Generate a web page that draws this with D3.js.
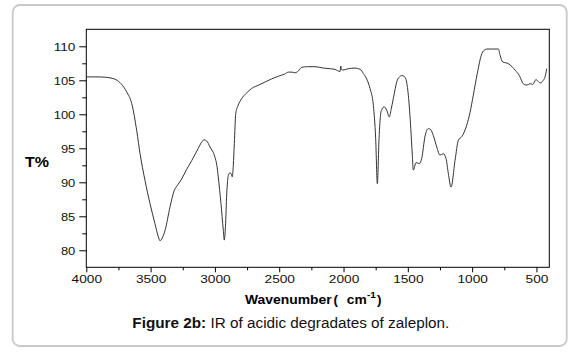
<!DOCTYPE html>
<html><head><meta charset="utf-8">
<script src="https://cdn.jsdelivr.net/npm/d3@7/dist/d3.min.js"></script>
<style>
html,body{margin:0;padding:0;background:#fff;}
svg{display:block;font-family:"Liberation Sans",Arial,sans-serif;}
</style></head>
<body>
<svg id="c" width="576" height="359"></svg>
<script>
// Wavenumber (cm-1) and transmittance (T%)
const wavenumbers = [4000,3900,3850,3800,3770,3730,3686,3647,3608,3582,3544,3505,3466,3440,3427,3410,3388,3349,3316,3290,3258,3220,3180,3140,3103,3085,3065,3038,3000,2985,2974,2953,2935,2927,2918,2908,2896,2883,2872,2865,2857,2849,2838,2820,2792,2750,2714,2660,2610,2560,2507,2460,2429,2400,2377,2350,2325,2280,2222,2157,2100,2066,2027,2021,2016,2009,1963,1911,1870,1846,1820,1794,1768,1750,1737,1724,1711,1700,1685,1664,1644,1630,1613,1582,1565,1547,1530,1514,1496,1477,1465,1457,1436,1410,1392,1366,1340,1320,1302,1275,1250,1224,1203,1185,1164,1133,1107,1081,1042,1016,991,960,925,900,887,850,796,783,762,719,690,666,633,602,581,560,550,529,504,485,472,447,435,420];
const transmittance = [105.5,105.5,105.45,105.3,105.1,104.5,103.3,101.6,97.6,94.2,90.3,86.9,83.9,82.0,81.4,81.8,82.9,86.4,88.8,89.6,90.5,91.9,93.2,94.6,95.9,96.25,96.1,95.2,93.7,92.5,90.8,86.9,83.0,81.5,83.5,88.3,91.0,91.4,91.2,90.8,92.5,95.7,100.1,101.3,102.3,103.2,103.8,104.3,104.75,105.2,105.6,105.9,106.2,106.2,106.1,106.4,106.9,107.0,107.0,106.8,106.7,106.6,106.3,107.1,106.6,106.5,106.7,106.8,106.6,106.0,105.2,103.8,101.3,96.4,89.8,96.4,100.1,100.8,101.1,100.6,99.6,100.7,102.3,105.0,105.5,105.7,105.6,105.1,102.8,97.9,94.0,91.8,92.9,92.75,93.5,96.8,97.9,97.7,96.9,95.2,94.0,94.2,93.5,91.3,89.3,93.2,96.2,96.7,98.4,100.3,102.8,106.0,108.9,109.5,109.6,109.6,109.6,108.7,107.7,107.45,107.0,106.5,105.7,104.5,104.3,104.4,104.5,104.4,105.1,104.8,104.6,105.0,105.4,106.7];
const xTickValues = [4000,3500,3000,2500,2000,1500,1000,500];
const xMinorTicks = [3750,3250,2750,2250,1750,1250,750];
const yTickValues = [80,85,90,95,100,105,110];
const yMinorTicks = [82.5,87.5,92.5,97.5,102.5,107.5];
const yLabel = "T%";
const xLabelParts = ["Wavenumber", "(", "cm", "-1", ")"];
const caption = ["Figure 2b:", " IR of acidic degradates of zaleplon."];

const svg = d3.select("#c");
const L = 86.3, R = 549.3, T = 29.3, B = 267.3;
const x = d3.scaleLinear().domain([4000,400]).range([L,R]);
const y = d3.scaleLinear().domain([77.5,112.5]).range([B,T]);

// outer rounded frame
svg.append("rect").attr("x",12.7).attr("y",5).attr("width",554).attr("height",341)
  .attr("rx",7).attr("fill","none").attr("stroke","#c9c9c9").attr("stroke-width",1.8);

// plot frame
svg.append("rect").attr("x",L).attr("y",T).attr("width",R-L).attr("height",B-T)
  .attr("fill","none").attr("stroke","#000").attr("stroke-width",1);

// x axis
const gx = svg.append("g").attr("transform",`translate(0,${B})`);
gx.call(d3.axisBottom(x).tickValues(xTickValues).tickSize(5).tickPadding(3).tickFormat(d3.format("d")));
gx.select(".domain").remove();
gx.selectAll(".tick line").attr("stroke","#000");
gx.selectAll(".tick text").attr("font-size",10).attr("fill","#111").attr("dy",null).attr("y",15.4)
  .attr("font-family","Liberation Sans, Arial, sans-serif")
  .each(function(){const t=d3.select(this).text(); d3.select(this).attr("textLength",t.length*7.6).attr("lengthAdjust","spacingAndGlyphs");});
const gxm = svg.append("g").attr("transform",`translate(0,${B})`);
gxm.call(d3.axisBottom(x).tickValues(xMinorTicks).tickSize(3).tickFormat(""));
gxm.select(".domain").remove();
gxm.selectAll(".tick line").attr("stroke","#000");

// y axis
const gy = svg.append("g").attr("transform",`translate(${L},0)`);
gy.call(d3.axisLeft(y).tickValues(yTickValues).tickSize(7).tickPadding(4).tickFormat(d3.format("d")));
gy.select(".domain").remove();
gy.selectAll(".tick line").attr("stroke","#000");
gy.selectAll(".tick text").attr("font-size",10).attr("fill","#111").attr("dy","0.37em")
  .attr("font-family","Liberation Sans, Arial, sans-serif")
  .each(function(){const t=d3.select(this).text(); d3.select(this).attr("textLength",t.length*7.2).attr("lengthAdjust","spacingAndGlyphs");});
const gym = svg.append("g").attr("transform",`translate(${L},0)`);
gym.call(d3.axisLeft(y).tickValues(yMinorTicks).tickSize(4).tickFormat(""));
gym.select(".domain").remove();
gym.selectAll(".tick line").attr("stroke","#000");

// spectrum
const data = wavenumbers.map((w,i)=>({w, t: transmittance[i]}));
const line = d3.line().x(d=>x(d.w)).y(d=>y(d.t)).curve(d3.curveMonotoneX);
svg.append("path").datum(data).attr("d",line).attr("fill","none")
  .attr("stroke","#333").attr("stroke-width",1);

// axis titles
svg.append("text").attr("x",25).attr("y",166.5).attr("font-size",14.5).attr("font-weight","bold")
  .attr("fill","#000").attr("textLength",24).attr("lengthAdjust","spacingAndGlyphs").text(yLabel);

const xtg = svg.append("g").attr("font-weight","bold").attr("fill","#000");
const xlSpec = [
  {x:245, y:303.5, fs:13, len:86.7},
  {x:333.5, y:303.5, fs:13, len:4.5},
  {x:346.7, y:303.5, fs:13, len:20},
  {x:367, y:298, fs:8.5, len:9},
  {x:377, y:303.5, fs:13, len:4.5}
];
xLabelParts.forEach((p,i)=>{
  const s = xlSpec[i];
  xtg.append("text").attr("x",s.x).attr("y",s.y).attr("font-size",s.fs)
    .attr("textLength",s.len).attr("lengthAdjust","spacingAndGlyphs").text(p);
});

// caption
const cap = svg.append("text").attr("x",132.3).attr("y",327.5).attr("font-size",14).attr("fill","#111")
  .attr("textLength",317).attr("lengthAdjust","spacingAndGlyphs");
cap.append("tspan").attr("font-weight","bold").text(caption[0]);
cap.append("tspan").text(caption[1]);
</script>
</body></html>
